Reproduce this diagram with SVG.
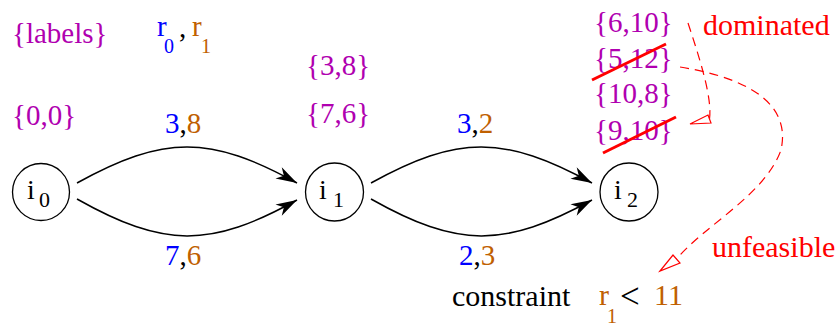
<svg xmlns="http://www.w3.org/2000/svg" width="839" height="326" viewBox="0 0 839 326">
<style>
text{font-family:"Liberation Serif","Times New Roman",serif;font-size:29px}
.pu{fill:#b000b0}
.bl{fill:#0000ff}
.br{fill:#c06000}
.rd{fill:#ff0000;font-size:30px}
.k{fill:#000}
.sub{font-size:20px}
.nl{font-size:28px}
.ns{font-size:22px}
.node{fill:#fff;stroke:#000;stroke-width:1.3}
.edge{fill:none;stroke:#000;stroke-width:1.5;marker-end:url(#ah)}
.dash{fill:none;stroke:#ff0000;stroke-width:1.2;stroke-dasharray:9 6}
.oah{fill:#fff;stroke:#ff0000;stroke-width:1.2}
.strike{stroke:#ff0000;stroke-width:3}
</style>
<defs>
<marker id="ah" viewBox="-22 -8 24 16" refX="0" refY="0" markerWidth="24" markerHeight="16" markerUnits="userSpaceOnUse" orient="auto">
<path d="M0,0 L-21,-6.5 L-15,0 L-21,6.5 Z" fill="#000"/>
</marker>
</defs>
<rect width="839" height="326" fill="#fff"/>
<g id="connectors">
<path class="edge" d="M77,183 C164,135 210,135 297,183"/>
<path class="edge" d="M77,199 C164,248 210,248 297,200"/>
<path class="edge" d="M371,183 C458,135 504,135 592,183"/>
<path class="edge" d="M371,199 C458,248 504,248 592,200"/>
</g>
<g id="node-i0">
<circle class="node" cx="41" cy="192" r="28.5"/>
<text class="k nl" x="27" y="199">i</text><text class="k ns" x="39" y="207">0</text>
</g>
<g id="node-i1">
<circle class="node" cx="334.5" cy="192" r="29"/>
<text class="k nl" x="319" y="199">i</text><text class="k ns" x="333" y="207">1</text>
</g>
<g id="node-i2">
<circle class="node" cx="629" cy="192" r="29"/>
<text class="k nl" x="614" y="199">i</text><text class="k ns" x="627" y="207">2</text>
</g>
<g id="legend">
<text class="pu" x="12" y="43">{labels}</text>
<text class="bl" x="157" y="36">r</text><text class="bl sub" x="164" y="53">0</text>
<text class="k" x="179" y="37">,</text>
<text class="br" x="192" y="36">r</text><text class="br sub" x="201" y="53">1</text>
</g>
<g id="labels">
<text class="pu" x="12" y="125">{0,0}</text>
<text class="pu" x="306" y="75">{3,8}</text>
<text class="pu" x="306" y="123">{7,6}</text>
<text x="165" y="133"><tspan class="bl">3</tspan><tspan class="k">,</tspan><tspan class="br">8</tspan></text>
<text x="457" y="133"><tspan class="bl">3</tspan><tspan class="k">,</tspan><tspan class="br">2</tspan></text>
<text x="165" y="265"><tspan class="bl">7</tspan><tspan class="k">,</tspan><tspan class="br">6</tspan></text>
<text x="459" y="265"><tspan class="bl">2</tspan><tspan class="k">,</tspan><tspan class="br">3</tspan></text>
<text class="pu" x="594" y="32">{6,10}</text>
<text class="pu" x="594" y="68">{5,12}</text>
<text class="pu" x="594" y="103">{10,8}</text>
<text class="pu" x="594" y="140">{9,10}</text>
</g>
<g id="annotations">
<line class="strike" x1="592" y1="80" x2="666" y2="44"/>
<line class="strike" x1="603" y1="153" x2="676" y2="117"/>
<path class="dash" d="M688,23 C703,68 712,100 709.5,119"/>
<polygon class="oah" points="690,124 708,115 711,123"/>
<path class="dash" d="M680,67 C760,80 790,110 781,150 C765,195 705,225 676.5,259"/>
<polygon class="oah" points="660,271 673,255 680,263"/>
<text class="rd" x="703" y="35">dominated</text>
<text class="rd" x="712" y="257">unfeasible</text>
<text class="k" x="452" y="306" style="font-size:30px">constraint</text>
<text class="br" x="599" y="305" style="font-size:30px">r</text><text class="br sub" x="607" y="323">1</text>
<text class="k" x="620" y="308" style="font-size:35px">&lt;</text>
<text class="br" x="654" y="305" style="font-size:30px">11</text>
</g>
</svg>
